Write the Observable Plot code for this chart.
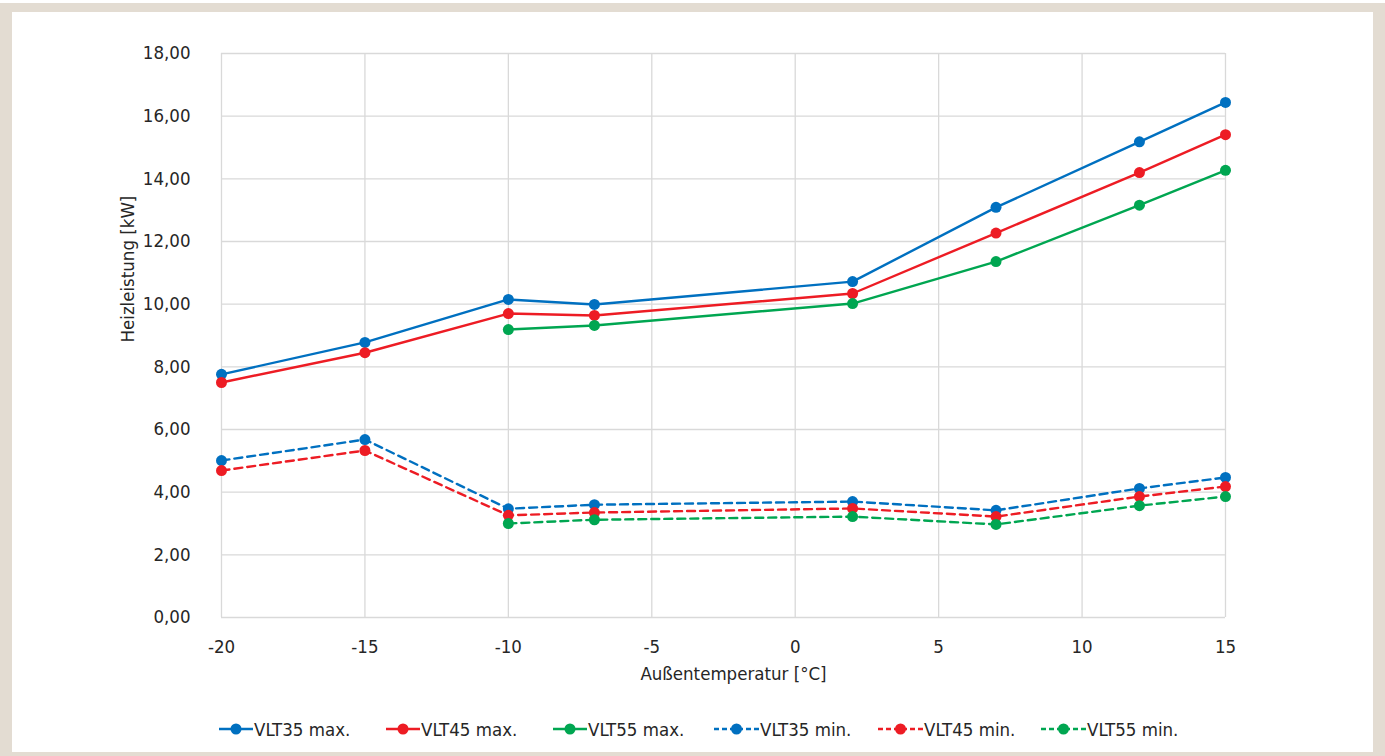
<!DOCTYPE html>
<html>
<head>
<meta charset="utf-8">
<script src="https://cdn.jsdelivr.net/npm/d3@7"></script>
<script src="https://cdn.jsdelivr.net/npm/@observablehq/plot@0.6"></script>
<style>
  html, body { margin: 0; padding: 0; background: #fff; }
  body { width: 1385px; height: 756px; position: relative; overflow: hidden;
         font-family: "Liberation Sans Narrow", "Arial Narrow", "DejaVu Sans Condensed", sans-serif; }
  #frame { position: absolute; left: 0; top: 3px; width: 1385px; height: 753px; box-sizing: border-box;
           border-left: 12px solid #e3dcd2; border-top: 9px solid #e3dcd2; border-right: 12px solid #e3dcd2;
           border-bottom: 4px solid #e3dcd2; }
  #chart { position: absolute; left: 0; top: 0; }
  #legend { position: absolute; top: 716px; left: 0; width: 1385px; height: 26px; }
  .item { position: absolute; top: 0; display: flex; align-items: center; height: 26px;
          font-size: 18.5px; color: #262626; }
  .item svg { display: block; }
</style>
</head>
<body>
<div id="frame"></div>
<div id="chart"></div>
<div id="legend"></div>
<script>
// ---- data ----
const temps = [-20, -15, -10, -7, 2, 7, 12, 15];
const seriesNames = ["VLT35 max.", "VLT45 max.", "VLT55 max.", "VLT35 min.", "VLT45 min.", "VLT55 min."];
const vlt35max = [7.76, 8.78, 10.15, 9.99, 10.72, 13.09, 15.18, 16.44];
const vlt45max = [7.50, 8.45, 9.70, 9.64, 10.34, 12.27, 14.20, 15.41];
const vlt55max = [null, null, 9.19, 9.32, 10.02, 11.36, 13.16, 14.27];
const vlt35min = [5.01, 5.68, 3.47, 3.60, 3.70, 3.42, 4.12, 4.47];
const vlt45min = [4.69, 5.33, 3.26, 3.35, 3.48, 3.22, 3.86, 4.18];
const vlt55min = [null, null, 3.00, 3.12, 3.22, 2.97, 3.57, 3.86];
const xTicks = [-20, -15, -10, -5, 0, 5, 10, 15];
const yTicks = [0, 2, 4, 6, 8, 10, 12, 14, 16, 18];
const xLabel = "Außentemperatur [°C]";
const yLabel = "Heizleistung [kW]";

// ---- styles ----
const colors = ["#0070c0", "#ed1c24", "#00a651", "#0070c0", "#ed1c24", "#00a651"];
const dashed = [false, false, false, true, true, true];
const values = [vlt35max, vlt45max, vlt55max, vlt35min, vlt45min, vlt55min];

const rows = [];
values.forEach((arr, si) => {
  arr.forEach((v, i) => {
    if (v != null) rows.push({series: seriesNames[si], x: temps[i], y: v, si});
  });
});

const fontFamily = '"Liberation Sans Narrow", "Arial Narrow", "DejaVu Sans Condensed", sans-serif';
const fs = 18.5;
const marks = [
  Plot.gridX(xTicks, {stroke: "#d9d9d9", strokeOpacity: 1, strokeWidth: 1.3}),
  Plot.gridY(yTicks, {stroke: "#d9d9d9", strokeOpacity: 1, strokeWidth: 1.3}),
  Plot.axisX(xTicks, {tickSize: 0, tickPadding: 22, fontSize: fs, fill: "#262626", label: null,
                      tickFormat: d => String(d)}),
  Plot.axisY(yTicks, {tickSize: 0, tickPadding: 31, fontSize: fs, fill: "#262626", label: null,
                      tickFormat: d => d.toFixed(2).replace(".", ",")}),
  Plot.text([xLabel], {frameAnchor: "bottom", dy: 62, dx: 10, fontSize: fs, fill: "#262626", text: d => d}),
  Plot.text([yLabel], {frameAnchor: "left", dx: -93, dy: 7, rotate: -90, fontSize: fs, fill: "#262626", text: d => d})
];
seriesNames.forEach((name, si) => {
  const data = rows.filter(r => r.si === si);
  marks.push(Plot.line(data, {x: "x", y: "y", stroke: colors[si], strokeWidth: 2.4,
    strokeDasharray: dashed[si] ? "8,5" : null}));
});
seriesNames.forEach((name, si) => {
  const data = rows.filter(r => r.si === si);
  marks.push(Plot.dot(data, {x: "x", y: "y", r: 5.5, fill: colors[si], stroke: "none"}));
});

const chart = Plot.plot({
  width: 1385, height: 700,
  marginLeft: 221, marginRight: 160, marginTop: 53, marginBottom: 83,
  style: {background: "transparent", fontFamily, overflow: "visible"},
  x: {domain: [-20, 15]},
  y: {domain: [0, 18]},
  marks
});
document.getElementById("chart").appendChild(chart);

// ---- legend ----
const legendLefts = [219, 386, 553, 714, 878, 1041];
const legend = document.getElementById("legend");
seriesNames.forEach((name, si) => {
  const w = dashed[si] ? 45 : 34;
  const item = document.createElement("div");
  item.className = "item";
  item.style.left = legendLefts[si] + "px";
  item.innerHTML = `<svg width="${w}" height="26"><line x1="0" x2="${w}" y1="13" y2="13" stroke="${colors[si]}" stroke-width="2.4" ${dashed[si] ? 'stroke-dasharray="5,3"' : ''}/><circle cx="${w/2}" cy="13" r="5.5" fill="${colors[si]}"/></svg><span style="margin-left:1px">${name}</span>`;
  legend.appendChild(item);
});
</script>
</body>
</html>
